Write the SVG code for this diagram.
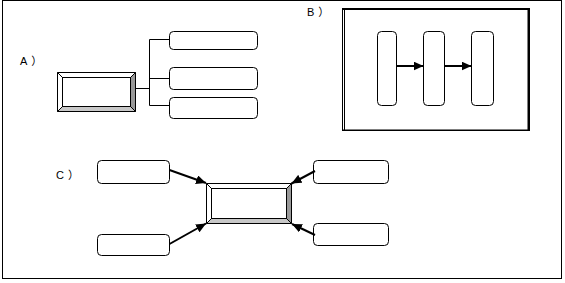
<svg xmlns="http://www.w3.org/2000/svg" width="565" height="283" viewBox="0 0 565 283">
<style>
.box{fill:#fff;stroke:#000;stroke-width:1}
.ln{fill:none;stroke:#000;stroke-width:1}
.arr{fill:none;stroke:#000;stroke-width:2;marker-end:url(#ah)}
.lbl{font-family:"Liberation Sans","Noto Sans CJK JP",sans-serif;font-size:11px;fill:#000;letter-spacing:4px}
.bw{fill:#fff;stroke:#000;stroke-width:1}
.bd{fill:#999;stroke:#000;stroke-width:1}
.bl{fill:#c8c8c8;stroke:#000;stroke-width:1}
</style>
<defs>
<marker id="ah" markerUnits="userSpaceOnUse" viewBox="0 0 10 9" refX="10" refY="4.5" markerWidth="10" markerHeight="9" orient="auto">
<path d="M0,0 L10,4.5 L0,9 z" fill="#000"/>
</marker>
</defs>
<rect x="0" y="0" width="565" height="283" fill="#fff"/>
<rect x="2.5" y="0.5" width="559" height="278" fill="none" stroke="#000"/>
<text class="lbl" x="20" y="65">A）</text>
<text class="lbl" x="307" y="16">B）</text>
<text class="lbl" x="56" y="179">C）</text>

<g id="a-main">
<polygon class="bw" points="57.5,72.5 135.5,72.5 130.5,77.5 62.5,77.5"/>
<polygon class="bw" points="57.5,72.5 62.5,77.5 62.5,106.5 57.5,111.5"/>
<polygon class="bd" points="135.5,72.5 135.5,111.5 130.5,106.5 130.5,77.5"/>
<polygon class="bl" points="57.5,111.5 135.5,111.5 130.5,106.5 62.5,106.5"/>
<rect class="box" x="62.5" y="77.5" width="68" height="29"/>
</g>
<g id="a-1"><rect class="box" x="169.5" y="31.5" width="88" height="18" rx="4"/></g>
<g id="a-2"><rect class="box" x="169.5" y="67.5" width="88" height="22" rx="4"/></g>
<g id="a-3"><rect class="box" x="169.5" y="97.5" width="88" height="21" rx="4"/></g>

<g id="b-frame">
<rect x="342" y="8" width="188" height="2" fill="#000"/>
<rect x="527.5" y="8" width="2.5" height="123" fill="#000"/>
<rect x="342" y="129.5" width="188" height="1.5" fill="#000"/>
<path class="ln" d="M342.5,8 V131 M344.5,10 V130"/>
</g>
<g id="b-1"><rect class="box" x="377.5" y="31.5" width="19" height="74" rx="4"/></g>
<g id="b-2"><rect class="box" x="423.5" y="31.5" width="21" height="74" rx="4"/></g>
<g id="b-3"><rect class="box" x="471.5" y="31.5" width="22" height="74" rx="4"/></g>

<g id="c-main">
<polygon class="bw" points="206.5,183.5 291.5,183.5 286.5,188.5 211.5,188.5"/>
<polygon class="bw" points="206.5,183.5 211.5,188.5 211.5,218.5 206.5,223.5"/>
<polygon class="bd" points="291.5,183.5 291.5,223.5 286.5,218.5 286.5,188.5"/>
<polygon class="bl" points="206.5,223.5 291.5,223.5 286.5,218.5 211.5,218.5"/>
<rect class="box" x="211.5" y="188.5" width="75" height="30"/>
</g>
<g id="c-tl"><rect class="box" x="97.5" y="160.5" width="72" height="23" rx="4"/></g>
<g id="c-bl"><rect class="box" x="97.5" y="234.5" width="72" height="21" rx="4"/></g>
<g id="c-tr"><rect class="box" x="313.5" y="160.5" width="75" height="23" rx="4"/></g>
<g id="c-br"><rect class="box" x="313.5" y="223.5" width="75" height="22" rx="4"/></g>

<g id="connectors">
<path class="ln" d="M135.5,88.5 H149.5 M149.5,39.5 V105.5 M149.5,39.5 H169.5 M149.5,78.5 H169.5 M149.5,105.5 H169.5"/>
<line class="arr" x1="396.5" y1="66" x2="423.5" y2="66"/>
<line class="arr" x1="444.5" y1="66" x2="471.5" y2="66"/>
<line class="arr" x1="169.5" y1="170" x2="206" y2="183"/>
<line class="arr" x1="169.5" y1="244" x2="206" y2="223.5"/>
<line class="arr" x1="315" y1="171" x2="291.5" y2="183.5"/>
<line class="arr" x1="315" y1="235" x2="292" y2="224"/>
</g>
</svg>
